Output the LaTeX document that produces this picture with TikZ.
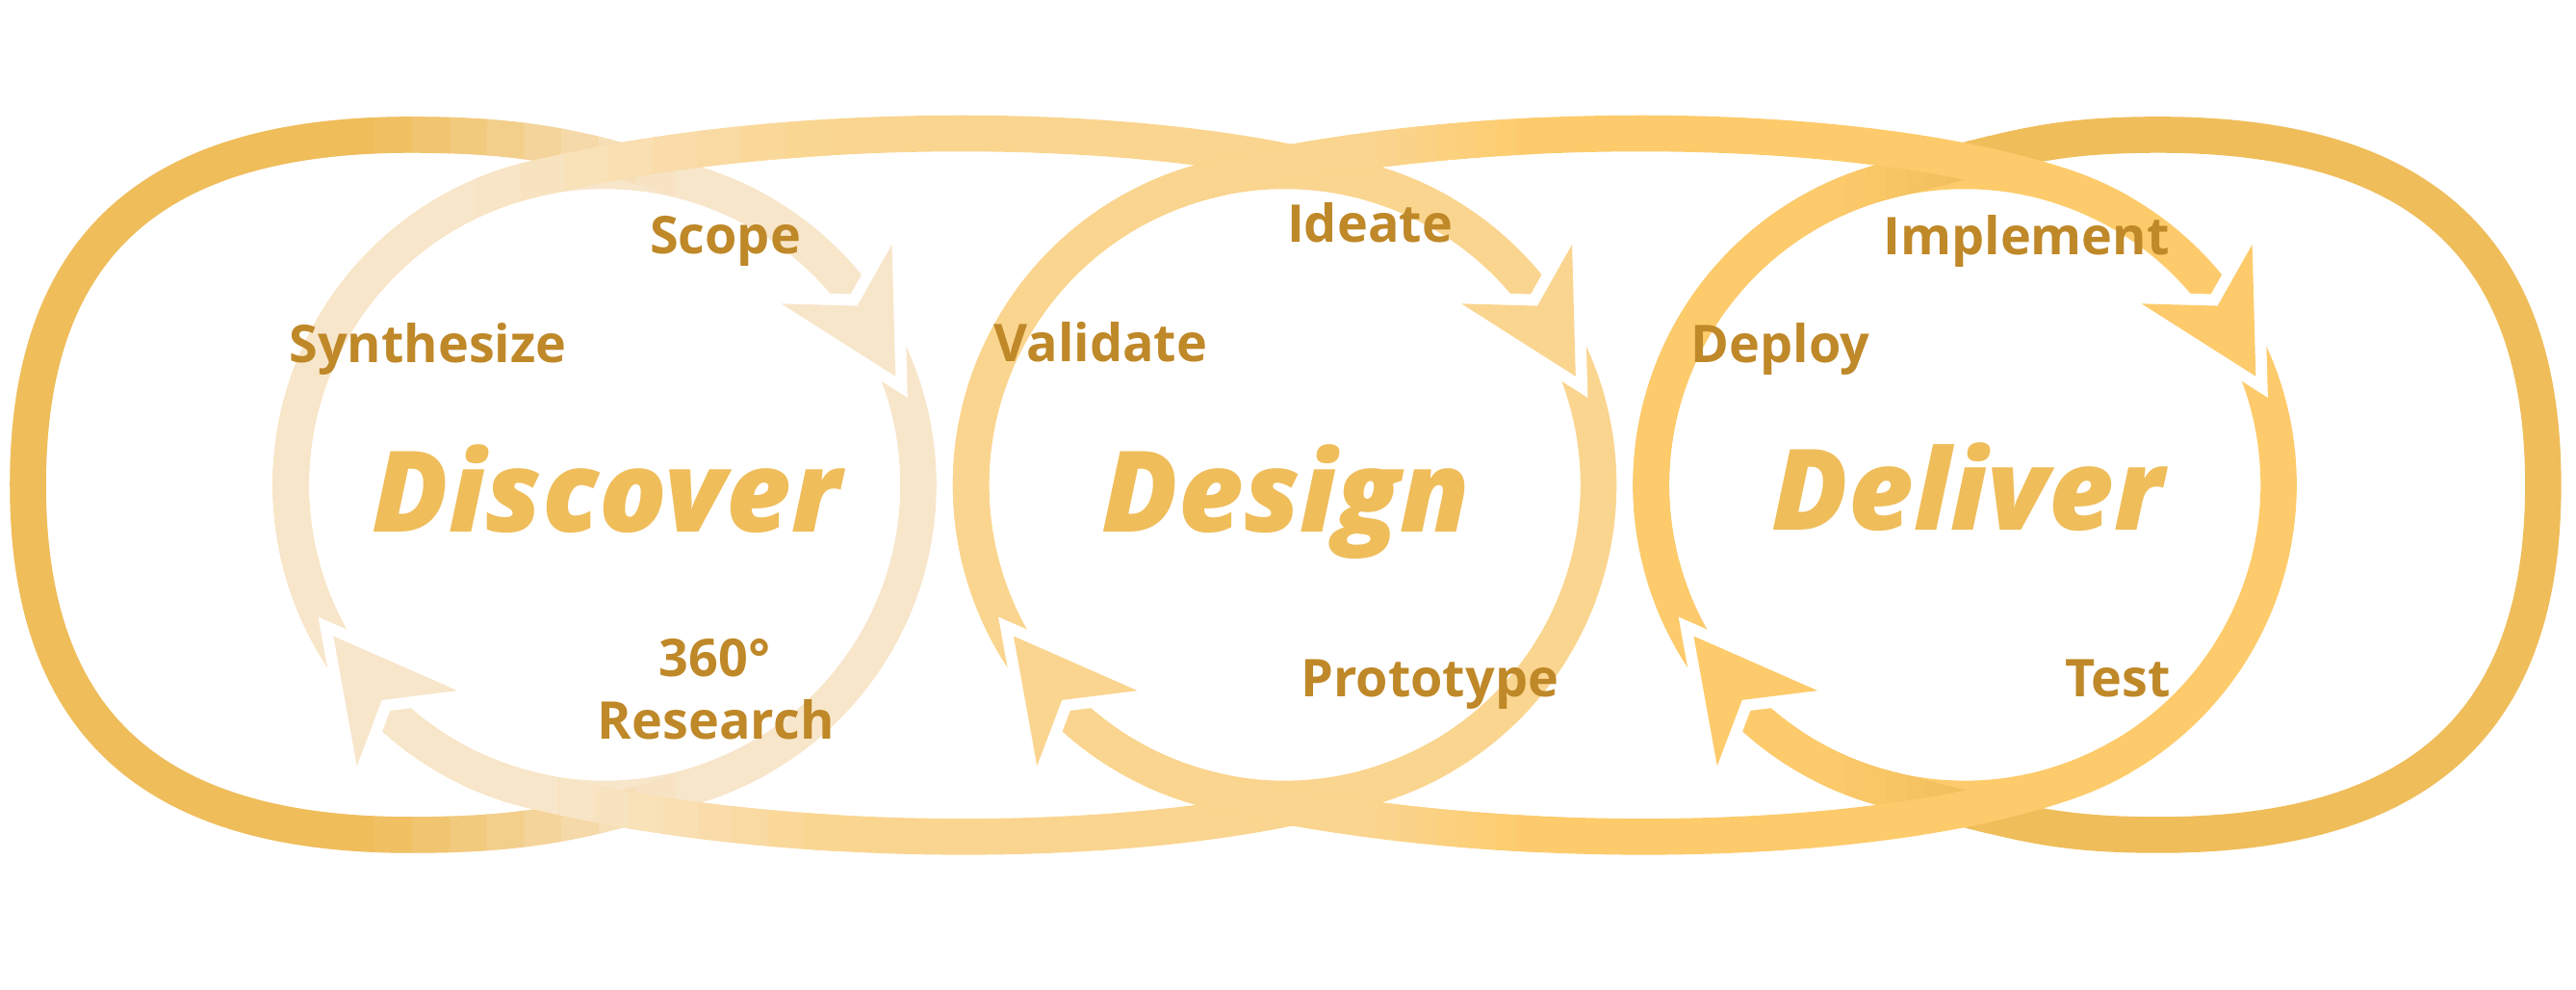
\documentclass[tikz,border=0pt]{standalone}
\usepackage{fontspec}
\usepackage{xcolor}
\usepackage{tikz}
\setmainfont{Open Sans}
\IfFontExistsTF{Open Sans ExtraBold Italic}
  {\newfontfamily\stagefont{Open Sans ExtraBold Italic}}
  {\IfFontExistsTF{Open Sans Extrabold Italic}
    {\newfontfamily\stagefont{Open Sans Extrabold Italic}}
    {\newfontfamily\stagefontbase{Open Sans}[BoldItalicFeatures={FakeBold=1.8}]
     \newcommand\stagefont{\stagefontbase\bfseries\itshape}}}
\IfFontExistsTF{Open Sans SemiBold}
  {\newfontfamily\stepfont{Open Sans SemiBold}}
  {\newcommand\stepfont{\bfseries}}

\definecolor{gold}{HTML}{EFBD5A}
\definecolor{pale}{HTML}{F8E6CB}
\definecolor{sand}{HTML}{FAD58F}
\definecolor{amber}{HTML}{FDCB6B}
\definecolor{steptext}{HTML}{BF8828}

% ribbons: ring arc -- link -- ring arc
\newcommand\leftloop{(dis) ++(-30:191) arc[start angle=-30, end angle=70, radius=191]
  .. controls (362.8,500.2) and (320,508) .. (250,508)
  .. controls (92,508) and (17,440) .. (17,295)
  .. controls (17,150) and (92,82) .. (250,82)
  .. controls (320,82) and (359.3,90) .. (430.2,114.4)
  arc[start angle=-71, end angle=-36, radius=191]}
\newcommand\rightloop{(del) ++(141.3:191) arc[start angle=141.3, end angle=256, radius=191]
  .. controls (1222.6,91.6) and (1244,82) .. (1314,82)
  .. controls (1473,82) and (1548,150) .. (1548,295)
  .. controls (1548,440) and (1473,508) .. (1314,508)
  .. controls (1244,508) and (1222.6,498.4) .. (1149.8,480.3)
  arc[start angle=104, end angle=135.3, radius=191]}
\newcommand\topDes{(dis) ++(141.3:191) arc[start angle=141.3, end angle=256, radius=191]
  .. controls (481.9,69.8) and (721.3,72.1) .. (844.2,114.4)
  arc[start angle=-71, end angle=-36, radius=191]}
\newcommand\topDel{(des) ++(141.3:191) arc[start angle=141.3, end angle=256, radius=191]
  .. controls (895.9,69.8) and (1135.3,72.1) .. (1258.2,114.4)
  arc[start angle=-71, end angle=-36, radius=191]}
\newcommand\botDis{(des) ++(-30:191) arc[start angle=-30, end angle=70, radius=191]
  .. controls (725.1,519) and (481.9,520.2) .. (321.8,480.3)
  arc[start angle=104, end angle=135.3, radius=191]}
\newcommand\botDes{(del) ++(-30:191) arc[start angle=-30, end angle=70, radius=191]
  .. controls (1139.1,519) and (895.9,520.2) .. (735.8,480.3)
  arc[start angle=104, end angle=135.3, radius=191]}

% #1 path, #2 left colour, #3 right colour, #4--#5 fade range
\newcommand\fadeband[5]{%
  \draw[band, #3] #1;
  \begin{scope}
    \clip (-20,-20) rectangle (#4,640);
    \draw[band, #2] #1;
  \end{scope}
  \foreach \k in {0,...,7}{
    \pgfmathsetmacro\xa{#4+\k*(#5-#4)/8}
    \pgfmathsetmacro\xb{\xa+(#5-#4)/8+0.8}
    \pgfmathtruncatemacro\mix{100-(\k+0.5)*100/8}
    \begin{scope}
      \clip (\xa,-20) rectangle (\xb,640);
      \draw[band, #2!\mix!#3] #1;
    \end{scope}
  }
}

% #1 ring centre, #2 angle of the tip, #3 colour
\newcommand\ringtip[3]{%
  \fill[#3, shift={(#1)}, preaction={draw=white, line width=1.4mm}]
    (#2:189) -- (#2-19.45:228) -- (#2-14.85:188.5) -- (#2-25.25:154) -- cycle;
}

\begin{document}
\begin{tikzpicture}[x=0.1mm, y=-0.1mm,
    band/.style={line width=2.2mm},
    stagename/.style={text=gold, font=\stagefont\fontsize{19.5}{22}\selectfont, anchor=base, inner sep=0pt},
    steplabel/.style={text=steptext, font=\stepfont\fontsize{9}{11}\selectfont, anchor=base, inner sep=0pt}]
    \useasboundingbox (0,0) rectangle (1568,601.8);

    \coordinate (dis) at (368,295);
    \coordinate (des) at (782,295);
    \coordinate (del) at (1196,295);

    % ring tops and bottoms under the crossings
    \foreach \c/\col in {dis/pale, des/sand, del/amber}{
      \draw[band, \col] (\c) ++(-115:191) arc[start angle=-115, end angle=-60, radius=191];
      \draw[band, \col] (\c) ++(60:191) arc[start angle=60, end angle=115, radius=191];
    }

    % outer loops
    \fadeband{\leftloop}{gold}{pale}{228}{410}
    \fadeband{\rightloop}{amber}{gold}{1111}{1210}

    % links between the rings
    \fadeband{\botDis}{pale}{sand}{340}{510}
    \fadeband{\botDes}{sand}{amber}{838}{936}
    \fadeband{\topDes}{pale}{sand}{290}{505}
    \fadeband{\topDel}{sand}{amber}{838}{936}

    % arrow tips
    \ringtip{dis}{-20.45}{pale}
    \ringtip{dis}{150.85}{pale}
    \ringtip{des}{-20.45}{sand}
    \ringtip{des}{150.85}{sand}
    \ringtip{del}{-20.45}{amber}
    \ringtip{del}{150.85}{amber}

    \node[stagename] (discover) at (369,323.6) {Discover};
    \node[stagename] (design) at (782.6,323.6) {Design};
    \node[stagename] (deliver) at (1197.7,322.5) {Deliver};

    \node[steplabel] (scope) at (441.5,154.3) {Scope};
    \node[steplabel] (synth) at (260.4,220.4) {Synthesize};
    \node[steplabel] (deg) at (435,411.6) {360°};
    \node[steplabel] (research) at (435.8,450) {Research};
    \node[steplabel] (ideate) at (833.8,147.5) {Ideate};
    \node[steplabel] (validate) at (670,220.3) {Validate};
    \node[steplabel] (proto) at (870.3,424.2) {Prototype};
    \node[steplabel] (implement) at (1233.5,155.1) {Implement};
    \node[steplabel] (deploy) at (1083.7,220.4) {Deploy};
    \node[steplabel] (test) at (1289,424.2) {Test};
\end{tikzpicture}
\end{document}
